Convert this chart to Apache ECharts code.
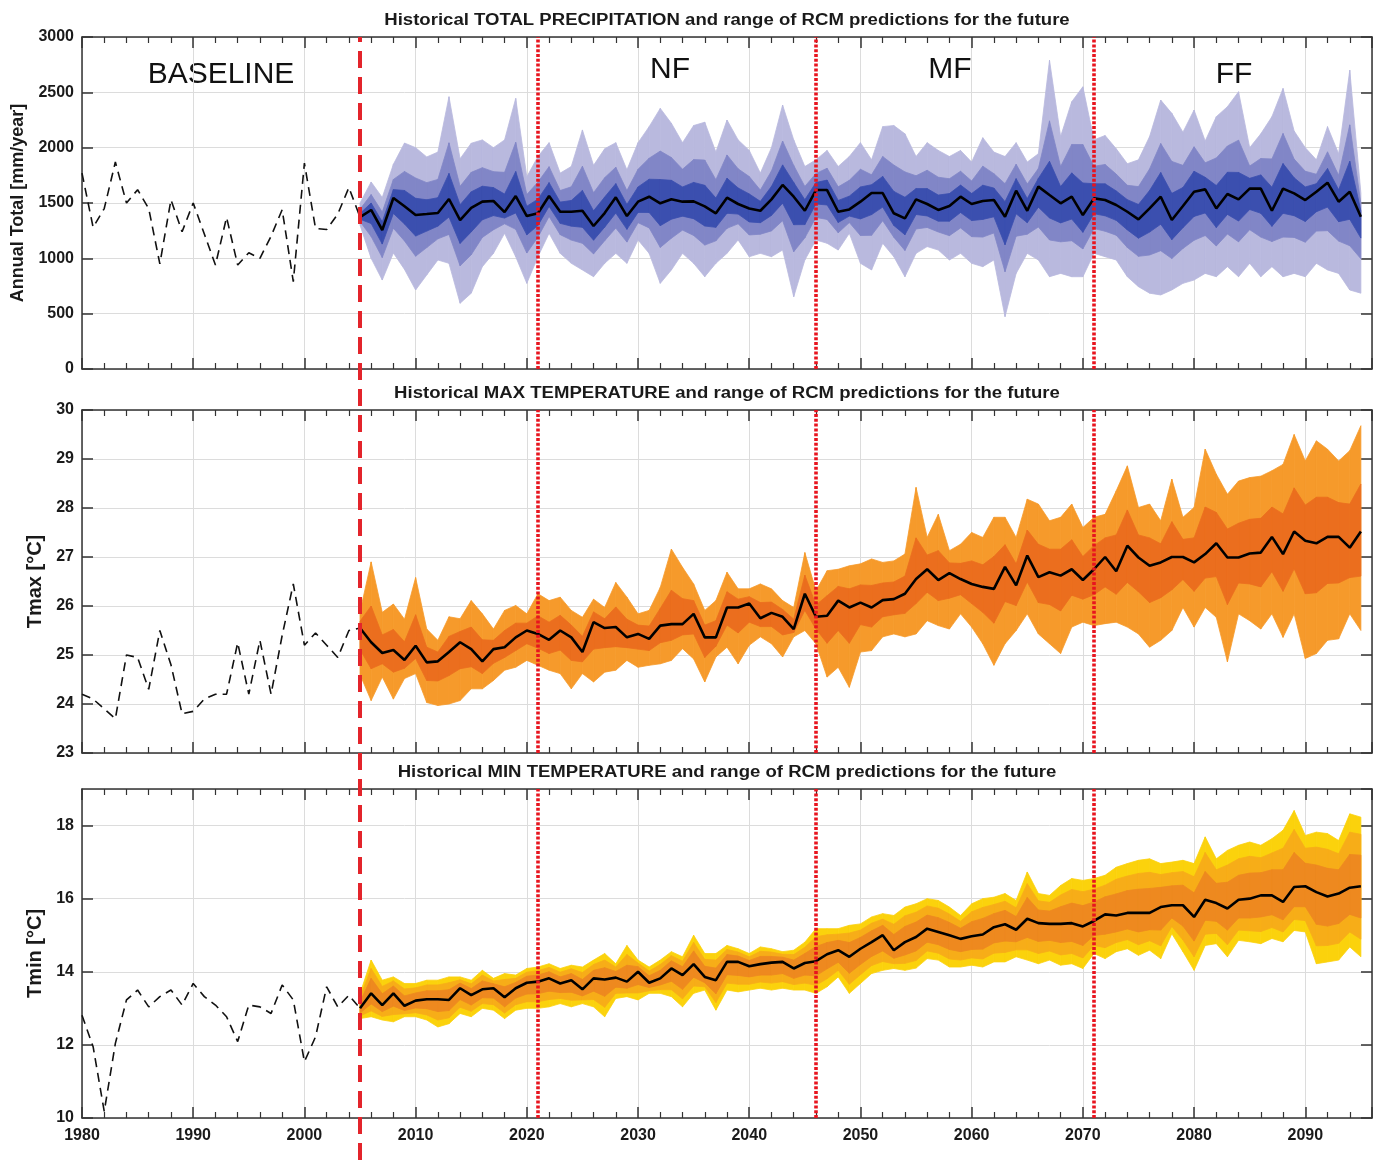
<!DOCTYPE html>
<html>
<head>
<meta charset="utf-8">
<title>Historical climate and RCM predictions</title>
<script src="https://cdn.jsdelivr.net/npm/echarts@6/dist/echarts.min.js"></script>
<style>
  html, body { margin: 0; background: #fff; }
  #chart { width: 1378px; height: 1162px; }
</style>
</head>
<body>
<div id="chart"></div>
<script>
// years on the x axis
const histYears = [];
for (let y = 1980; y <= 2005; y++) histYears.push(y);
const futureYears = [];
for (let y = 2005; y <= 2095; y++) futureYears.push(y);
const baselineEnd = 2005;
const periodBreaks = [2021, 2046, 2071];
const periodLabels = ['BASELINE', 'NF', 'MF', 'FF'];

// ---- total precipitation (mm/year)
const histPrecip = [1770, 1280, 1450, 1870, 1500, 1620, 1450, 950, 1530, 1240, 1500, 1220, 940, 1370, 940, 1050, 1000, 1200, 1440, 790, 1860, 1270, 1260, 1400, 1640, 1373];
const precipMedian = [
  1373, 1437, 1256, 1545, 1470, 1391, 1400, 1410, 1536, 1346,
  1455, 1512, 1518, 1418, 1563, 1382, 1407, 1563, 1421, 1421,
  1430, 1292, 1409, 1551, 1382, 1512, 1557, 1497, 1533, 1512,
  1515, 1470, 1407, 1548, 1491, 1451, 1430, 1533, 1663, 1557,
  1430, 1617, 1617, 1421, 1442, 1512, 1590, 1590, 1407, 1361,
  1533, 1491, 1437, 1473, 1557, 1491, 1518, 1527, 1376, 1611,
  1430, 1648, 1572, 1497, 1557, 1391, 1542, 1527, 1482, 1421,
  1352, 1451, 1557, 1346, 1473, 1602, 1623, 1451, 1581, 1533,
  1630, 1630, 1430, 1630, 1587, 1527, 1602, 1684, 1512, 1602,
  1376];
const precipOuterHi = [
  1500, 1690, 1550, 1850, 2042, 2000, 1916, 1960, 2460, 1900,
  2040, 2070, 2000, 2070, 2445, 1737, 1920, 2045, 1770, 1830,
  2160, 1840, 1990, 2045, 1800, 2045, 2190, 2355, 2220, 2045,
  2200, 2230, 1960, 2250, 2070, 1975, 1770, 2000, 2385, 2070,
  1830, 1890, 1975, 1830, 1920, 2045, 1890, 2190, 2200, 2125,
  1920, 2045, 1975, 1920, 1975, 1870, 2090, 1960, 1920, 2045,
  1870, 1945, 2790, 2100, 2415, 2550, 2070, 2110, 1990, 1855,
  1890, 2100, 2430, 2310, 2140, 2340, 2060, 2280, 2370, 2505,
  2000, 2125, 2280, 2535, 2150, 2000, 1890, 2190, 1945, 2700,
  1590];
const precipOuterLo = [
  1300, 1000, 804, 1048, 900, 714, 850, 985, 955, 594,
  685, 925, 1045, 1226, 1015, 774, 1015, 1226, 1045, 955,
  895, 834, 955, 1045, 955, 1166, 1045, 774, 895, 1045,
  955, 834, 955, 1045, 1166, 1015, 1045, 1015, 1075, 653,
  985, 1166, 1136, 1075, 1226, 955, 895, 1136, 1015, 834,
  1045, 1106, 1075, 985, 1045, 955, 925, 985, 473, 864,
  1045, 985, 834, 864, 834, 834, 1045, 1015, 985, 834,
  744, 685, 669, 714, 774, 804, 864, 834, 925, 834,
  955, 834, 925, 834, 864, 834, 955, 895, 864, 714,
  685];
const precipMidHi = [
  1443, 1576, 1418, 1713, 1785, 1726, 1684, 1713, 2044, 1651,
  1777, 1819, 1783, 1777, 2048, 1577, 1689, 1828, 1613, 1646,
  1832, 1593, 1729, 1823, 1612, 1805, 1905, 1969, 1911, 1805,
  1892, 1888, 1711, 1934, 1809, 1739, 1617, 1790, 2060, 1839,
  1650, 1767, 1814, 1646, 1705, 1805, 1755, 1920, 1843, 1781,
  1746, 1796, 1733, 1719, 1787, 1699, 1833, 1765, 1675, 1850,
  1672, 1811, 2242, 1829, 2029, 2028, 1832, 1848, 1761, 1660,
  1648, 1808, 2037, 1876, 1840, 2008, 1863, 1907, 2015, 2068,
  1834, 1902, 1898, 2128, 1897, 1787, 1760, 1962, 1750, 2206,
  1494];
const precipMidLo = [
  1333, 1197, 1007, 1272, 1157, 1019, 1097, 1176, 1216, 932,
  1032, 1189, 1258, 1312, 1262, 1048, 1191, 1378, 1214, 1165,
  1136, 1040, 1159, 1273, 1147, 1322, 1275, 1099, 1182, 1255,
  1207, 1120, 1158, 1271, 1312, 1211, 1218, 1248, 1340, 1060,
  1185, 1369, 1352, 1231, 1323, 1206, 1208, 1340, 1191, 1071,
  1265, 1279, 1238, 1205, 1275, 1196, 1192, 1229, 879, 1200,
  1218, 1283, 1166, 1149, 1159, 1085, 1269, 1245, 1209, 1098,
  1018, 1030, 1069, 998, 1089, 1163, 1206, 1112, 1220, 1149,
  1259, 1192, 1152, 1192, 1189, 1146, 1246, 1250, 1156, 1114,
  996];
const precipInnerHi = [
  1405, 1500, 1330, 1621, 1613, 1543, 1529, 1548, 1767, 1485,
  1601, 1652, 1639, 1581, 1784, 1471, 1535, 1684, 1508, 1523,
  1613, 1429, 1554, 1675, 1487, 1645, 1715, 1712, 1705, 1645,
  1686, 1660, 1545, 1724, 1636, 1582, 1515, 1650, 1844, 1685,
  1530, 1685, 1707, 1523, 1562, 1645, 1665, 1740, 1605, 1552,
  1630, 1630, 1572, 1585, 1662, 1586, 1661, 1635, 1512, 1720,
  1540, 1722, 1877, 1648, 1772, 1681, 1674, 1673, 1609, 1530,
  1487, 1613, 1775, 1587, 1640, 1787, 1732, 1658, 1778, 1776,
  1723, 1754, 1643, 1856, 1728, 1645, 1674, 1811, 1620, 1877,
  1430];
const precipInnerLo = [
  1353, 1315, 1129, 1406, 1310, 1201, 1246, 1291, 1373, 1135,
  1239, 1348, 1386, 1364, 1410, 1212, 1297, 1469, 1316, 1291,
  1280, 1164, 1282, 1409, 1262, 1415, 1414, 1295, 1354, 1381,
  1358, 1292, 1280, 1407, 1400, 1329, 1322, 1388, 1498, 1304,
  1305, 1491, 1482, 1324, 1382, 1356, 1395, 1463, 1297, 1213,
  1396, 1383, 1336, 1336, 1414, 1341, 1352, 1375, 1123, 1402,
  1322, 1462, 1365, 1320, 1355, 1235, 1403, 1384, 1343, 1257,
  1182, 1237, 1308, 1169, 1277, 1379, 1410, 1278, 1397, 1337,
  1441, 1407, 1289, 1407, 1385, 1333, 1421, 1463, 1331, 1353,
  1183];

// ---- max temperature (°C)
const histTmax = [24.2, 24.1, 23.9, 23.7, 25.0, 24.95, 24.3, 25.5, 24.8, 23.8, 23.85, 24.1, 24.2, 24.2, 25.25, 24.2, 25.3, 24.2, 25.4, 26.45, 25.2, 25.45, 25.2, 24.95, 25.5, 25.55];
const tmaxMedian = [
  25.55, 25.26, 25.04, 25.10, 24.90, 25.19, 24.85, 24.87, 25.06, 25.26,
  25.12, 24.87, 25.12, 25.16, 25.36, 25.50, 25.43, 25.31, 25.50, 25.36,
  25.06, 25.67, 25.55, 25.57, 25.36, 25.43, 25.33, 25.60, 25.63, 25.63,
  25.84, 25.36, 25.36, 25.97, 25.97, 26.05, 25.75, 25.86, 25.78, 25.53,
  26.25, 25.78, 25.80, 26.11, 25.97, 26.07, 25.97, 26.12, 26.14, 26.25,
  26.55, 26.75, 26.53, 26.67, 26.55, 26.45, 26.39, 26.35, 26.80, 26.42,
  27.03, 26.59, 26.69, 26.62, 26.75, 26.53, 26.75, 27.00, 26.71, 27.23,
  26.99, 26.82, 26.89, 27.00, 27.00, 26.89, 27.06, 27.28, 26.99, 26.99,
  27.07, 27.09, 27.41, 27.06, 27.52, 27.33, 27.28, 27.41, 27.41, 27.19,
  27.52];
const tmaxOuterHi = [
  25.88, 26.90, 25.87, 26.04, 25.73, 26.58, 25.53, 25.30, 25.78, 25.74,
  26.11, 25.84, 25.53, 25.91, 26.01, 25.84, 26.25, 26.11, 26.18, 25.91,
  25.77, 26.14, 25.97, 26.48, 26.18, 25.84, 25.91, 26.38, 27.16, 26.79,
  26.45, 25.91, 26.11, 26.69, 26.35, 26.35, 26.45, 26.35, 26.11, 25.97,
  27.09, 26.31, 26.72, 26.75, 26.82, 26.86, 26.96, 26.89, 26.92, 27.06,
  28.42, 27.40, 27.87, 27.13, 27.26, 27.50, 27.40, 27.81, 27.81, 27.40,
  28.18, 28.08, 27.74, 27.81, 28.08, 27.60, 27.81, 27.87, 28.35, 28.86,
  28.01, 28.08, 27.74, 28.59, 27.81, 28.01, 29.20, 28.69, 28.28, 28.55,
  28.62, 28.65, 28.76, 28.89, 29.50, 28.96, 29.37, 29.20, 28.96, 29.17,
  29.68];
const tmaxOuterLo = [
  24.60, 24.07, 24.55, 24.10, 24.52, 24.62, 24.03, 23.97, 24.00, 24.07,
  24.31, 24.31, 24.48, 24.69, 24.75, 24.89, 24.79, 24.69, 24.62, 24.31,
  24.62, 24.45, 24.65, 24.69, 24.89, 24.75, 24.79, 24.82, 24.89, 25.13,
  24.92, 24.45, 24.96, 25.16, 24.82, 25.20, 25.37, 25.23, 24.96, 25.37,
  25.50, 25.23, 24.55, 24.75, 24.34, 25.06, 25.09, 25.37, 25.43, 25.37,
  25.43, 25.70, 25.60, 25.53, 25.84, 25.57, 25.23, 24.79, 25.23, 25.50,
  25.84, 25.43, 25.23, 25.03, 25.57, 25.67, 25.60, 25.64, 25.67, 25.57,
  25.43, 25.16, 25.30, 25.50, 25.97, 25.57, 25.97, 25.77, 24.86, 25.84,
  25.70, 25.53, 25.84, 25.36, 25.84, 24.93, 25.03, 25.30, 25.33, 25.84,
  25.50];
const tmaxInnerHi = [
  25.69, 26.00, 25.41, 25.52, 25.27, 25.82, 25.16, 25.06, 25.38, 25.48,
  25.57, 25.31, 25.30, 25.50, 25.65, 25.65, 25.80, 25.67, 25.81, 25.61,
  25.38, 25.88, 25.74, 25.98, 25.73, 25.61, 25.59, 25.95, 26.32, 26.15,
  26.11, 25.61, 25.70, 26.29, 26.14, 26.19, 26.07, 26.08, 25.93, 25.73,
  26.63, 26.02, 26.21, 26.40, 26.35, 26.43, 26.42, 26.47, 26.49, 26.61,
  27.39, 27.04, 27.13, 26.88, 26.87, 26.92, 26.84, 27.01, 27.25, 26.86,
  27.55, 27.26, 27.16, 27.16, 27.35, 27.01, 27.23, 27.39, 27.45, 27.96,
  27.45, 27.39, 27.27, 27.72, 27.36, 27.39, 28.02, 27.91, 27.57, 27.69,
  27.77, 27.79, 28.02, 27.88, 28.41, 28.06, 28.22, 28.22, 28.11, 28.08,
  28.49];
const tmaxInnerLo = [
  25.11, 24.72, 24.82, 24.65, 24.73, 24.93, 24.48, 24.47, 24.58, 24.72,
  24.76, 24.62, 24.83, 24.95, 25.09, 25.23, 25.14, 25.03, 25.10, 24.89,
  24.86, 25.12, 25.15, 25.17, 25.15, 25.12, 25.09, 25.25, 25.30, 25.41,
  25.43, 24.95, 25.18, 25.61, 25.45, 25.67, 25.58, 25.58, 25.41, 25.46,
  25.91, 25.53, 25.24, 25.50, 25.24, 25.62, 25.57, 25.78, 25.82, 25.85,
  26.05, 26.28, 26.11, 26.16, 26.23, 26.05, 25.87, 25.65, 26.09, 26.01,
  26.49, 26.07, 26.03, 25.90, 26.22, 26.14, 26.23, 26.39, 26.24, 26.48,
  26.29, 26.07, 26.17, 26.33, 26.54, 26.30, 26.57, 26.60, 26.03, 26.47,
  26.45, 26.39, 26.70, 26.30, 26.76, 26.25, 26.27, 26.46, 26.47, 26.58,
  26.61];

// ---- min temperature (°C)
const histTmin = [12.81, 11.95, 10.18, 12.04, 13.23, 13.50, 13.04, 13.32, 13.50, 13.09, 13.68, 13.32, 13.09, 12.77, 12.09, 13.09, 13.04, 12.86, 13.64, 13.23, 11.54, 12.22, 13.59, 13.04, 13.36, 13.00];
const tminMedian = [
  13.00, 13.41, 13.09, 13.41, 13.07, 13.21, 13.25, 13.25, 13.23, 13.55,
  13.36, 13.52, 13.55, 13.30, 13.55, 13.70, 13.73, 13.82, 13.68, 13.77,
  13.52, 13.82, 13.79, 13.84, 13.73, 14.00, 13.70, 13.82, 14.09, 13.91,
  14.21, 13.86, 13.77, 14.27, 14.27, 14.15, 14.21, 14.25, 14.27, 14.09,
  14.24, 14.29, 14.48, 14.59, 14.41, 14.63, 14.81, 15.00, 14.59, 14.81,
  14.95, 15.18, 15.09, 15.00, 14.90, 14.97, 15.02, 15.22, 15.30, 15.15,
  15.45, 15.33, 15.31, 15.31, 15.33, 15.24, 15.39, 15.57, 15.54, 15.61,
  15.61, 15.61, 15.77, 15.82, 15.82, 15.50, 15.97, 15.88, 15.73, 15.97,
  16.00, 16.09, 16.09, 15.91, 16.32, 16.34, 16.18, 16.06, 16.14, 16.30,
  16.34];
const tminOuterHi = [
  13.40, 14.32, 13.77, 13.86, 13.68, 13.68, 13.77, 13.77, 13.86, 13.86,
  13.77, 14.04, 13.82, 13.95, 13.91, 14.09, 14.13, 14.22, 14.09, 14.18,
  14.13, 14.32, 14.50, 14.22, 14.72, 14.32, 14.13, 14.32, 14.55, 14.41,
  15.00, 14.50, 14.50, 14.72, 14.63, 14.50, 14.68, 14.63, 14.55, 14.59,
  14.81, 15.18, 15.18, 15.18, 15.27, 15.31, 15.50, 15.59, 15.54, 15.77,
  15.86, 16.00, 15.95, 15.77, 15.54, 15.86, 16.00, 16.04, 16.14, 15.95,
  16.73, 16.14, 16.09, 16.36, 16.55, 16.50, 16.55, 16.64, 16.86, 16.96,
  17.05, 17.09, 16.96, 17.00, 17.05, 16.96, 17.69, 17.09, 17.32, 17.46,
  17.55, 17.46, 17.64, 17.87, 18.41, 17.73, 17.82, 17.78, 17.59, 18.32,
  18.23];
const tminOuterLo = [
  12.72, 12.77, 12.68, 12.63, 12.77, 12.77, 12.68, 12.49, 12.58, 12.86,
  12.77, 13.00, 12.95, 12.72, 12.95, 13.00, 13.00, 13.04, 13.13, 13.04,
  13.13, 13.04, 12.77, 13.27, 13.32, 13.23, 13.41, 13.41, 13.32, 13.04,
  13.41, 13.50, 12.95, 13.50, 13.45, 13.50, 13.55, 13.50, 13.55, 13.50,
  13.50, 13.41, 13.59, 13.86, 13.41, 13.68, 13.95, 14.04, 14.09, 14.04,
  14.10, 14.36, 14.32, 14.13, 14.13, 14.18, 14.13, 14.27, 14.27, 14.41,
  14.32, 14.22, 14.32, 14.18, 14.22, 14.09, 14.50, 14.36, 14.55, 14.63,
  14.45, 14.59, 14.36, 15.04, 14.55, 14.04, 14.72, 14.77, 14.41, 14.86,
  14.82, 14.77, 14.91, 14.82, 15.13, 15.09, 14.22, 14.27, 14.32, 14.68,
  14.41];
const tminMidHi = [
  13.30, 14.09, 13.60, 13.75, 13.53, 13.56, 13.64, 13.64, 13.70, 13.78,
  13.67, 13.91, 13.75, 13.79, 13.82, 13.99, 14.03, 14.12, 13.99, 14.08,
  13.98, 14.20, 14.32, 14.13, 14.47, 14.24, 14.02, 14.20, 14.44, 14.29,
  14.80, 14.34, 14.32, 14.61, 14.54, 14.41, 14.56, 14.54, 14.48, 14.47,
  14.67, 14.96, 15.01, 15.03, 15.06, 15.14, 15.33, 15.44, 15.30, 15.53,
  15.63, 15.80, 15.74, 15.58, 15.38, 15.64, 15.76, 15.84, 15.93, 15.75,
  16.41, 15.94, 15.90, 16.10, 16.25, 16.19, 16.26, 16.37, 16.53, 16.62,
  16.69, 16.72, 16.66, 16.71, 16.74, 16.60, 17.26, 16.79, 16.92, 17.09,
  17.16, 17.12, 17.25, 17.38, 17.89, 17.38, 17.41, 17.35, 17.23, 17.82,
  17.76];
const tminMidLo = [
  12.79, 12.93, 12.78, 12.83, 12.85, 12.88, 12.82, 12.68, 12.74, 13.03,
  12.92, 13.13, 13.10, 12.87, 13.10, 13.18, 13.18, 13.24, 13.27, 13.22,
  13.23, 13.24, 13.03, 13.41, 13.42, 13.42, 13.48, 13.51, 13.51, 13.26,
  13.61, 13.59, 13.16, 13.69, 13.66, 13.66, 13.72, 13.69, 13.73, 13.65,
  13.69, 13.63, 13.81, 14.04, 13.66, 13.92, 14.17, 14.28, 14.22, 14.23,
  14.31, 14.57, 14.51, 14.35, 14.32, 14.38, 14.35, 14.51, 14.53, 14.60,
  14.60, 14.50, 14.57, 14.46, 14.50, 14.38, 14.72, 14.66, 14.80, 14.88,
  14.74, 14.85, 14.71, 15.24, 14.87, 14.41, 15.03, 15.05, 14.74, 15.14,
  15.12, 15.10, 15.21, 15.09, 15.43, 15.40, 14.71, 14.72, 14.78, 15.09,
  14.89];
const tminInnerHi = [
  13.18, 13.82, 13.40, 13.61, 13.34, 13.42, 13.48, 13.48, 13.51, 13.69,
  13.54, 13.75, 13.67, 13.59, 13.71, 13.88, 13.91, 14.00, 13.86, 13.95,
  13.79, 14.04, 14.11, 14.01, 14.18, 14.14, 13.89, 14.04, 14.30, 14.14,
  14.57, 14.15, 14.10, 14.47, 14.43, 14.31, 14.42, 14.42, 14.40, 14.32,
  14.50, 14.69, 14.80, 14.86, 14.80, 14.94, 15.12, 15.27, 15.02, 15.24,
  15.36, 15.55, 15.48, 15.35, 15.19, 15.37, 15.46, 15.59, 15.68, 15.51,
  16.03, 15.69, 15.66, 15.78, 15.88, 15.81, 15.91, 16.05, 16.13, 16.22,
  16.26, 16.28, 16.31, 16.35, 16.37, 16.16, 16.74, 16.42, 16.45, 16.64,
  16.70, 16.71, 16.79, 16.79, 17.26, 16.97, 16.92, 16.83, 16.79, 17.21,
  17.19];
const tminInnerLo = [
  12.87, 13.12, 12.91, 13.06, 12.94, 13.01, 12.99, 12.91, 12.94, 13.24,
  13.09, 13.29, 13.28, 13.04, 13.28, 13.39, 13.40, 13.47, 13.43, 13.44,
  13.34, 13.47, 13.33, 13.58, 13.55, 13.65, 13.57, 13.64, 13.74, 13.52,
  13.85, 13.70, 13.40, 13.92, 13.90, 13.86, 13.91, 13.91, 13.95, 13.82,
  13.91, 13.89, 14.08, 14.26, 13.96, 14.20, 14.42, 14.57, 14.37, 14.46,
  14.57, 14.81, 14.74, 14.61, 14.55, 14.61, 14.62, 14.79, 14.84, 14.82,
  14.94, 14.83, 14.86, 14.80, 14.83, 14.72, 14.99, 15.03, 15.09, 15.17,
  15.09, 15.15, 15.14, 15.47, 15.25, 14.84, 15.41, 15.38, 15.14, 15.47,
  15.47, 15.50, 15.56, 15.42, 15.78, 15.78, 15.30, 15.25, 15.32, 15.57,
  15.47];

const FONT = '"Liberation Sans", Arial, Helvetica, sans-serif';
const TEXT = '#1a1a1a';

const panels = [
  {
    title: 'Historical TOTAL PRECIPITATION and range of RCM predictions for the future',
    top: 37, height: 332, min: 0, max: 3000, interval: 500,
    yName: 'Annual Total [mm/year]', nameGap: 53, nameSize: 18,
    hist: histPrecip, median: precipMedian,
    bands: [
      [precipOuterLo, precipOuterHi, '#b9b9de'],
      [precipMidLo, precipMidHi, '#8186c7'],
      [precipInnerLo, precipInnerHi, '#3b4faf']
    ]
  },
  {
    title: 'Historical MAX TEMPERATURE and range of RCM predictions for the future',
    top: 410, height: 343, min: 23, max: 30, interval: 1,
    yName: 'Tmax [°C]', nameGap: 34, nameSize: 20,
    hist: histTmax, median: tmaxMedian,
    bands: [
      [tmaxOuterLo, tmaxOuterHi, '#f69a2b'],
      [tmaxInnerLo, tmaxInnerHi, '#eb6e1e']
    ]
  },
  {
    title: 'Historical MIN TEMPERATURE and range of RCM predictions for the future',
    top: 789, height: 329, min: 10, max: 19, interval: 2,
    yName: 'Tmin [°C]', nameGap: 33, nameSize: 20,
    hist: histTmin, median: tminMedian,
    bands: [
      [tminOuterLo, tminOuterHi, '#fbd20c'],
      [tminMidLo, tminMidHi, '#f7ad18'],
      [tminInnerLo, tminInnerHi, '#ee891f']
    ]
  }
];

function pairs(xs, ys) {
  return xs.map((x, i) => [x, ys[i]]);
}

// one row per year-to-year segment: [x0, lo0, hi0, x1, lo1, hi1]
function bandRows(lo, hi) {
  const rows = [];
  for (let i = 0; i < futureYears.length - 1; i++) {
    rows.push([futureYears[i], lo[i], hi[i], futureYears[i + 1], lo[i + 1], hi[i + 1]]);
  }
  return rows;
}

function renderBand(params, api) {
  const a = api.coord([api.value(0), api.value(2)]);
  const b = api.coord([api.value(3), api.value(5)]);
  const c = api.coord([api.value(3), api.value(4)]);
  const d = api.coord([api.value(0), api.value(1)]);
  const color = api.visual('color');
  return {
    type: 'polygon',
    shape: { points: [a, b, c, d] },
    style: { fill: color, stroke: color, lineWidth: 0.8 }
  };
}

const grid = [];
const xAxis = [];
const yAxis = [];
const series = [];
const plainNumber = v => String(v);

panels.forEach((p, g) => {
  grid.push({ left: 82, right: 6, top: p.top, height: p.height });

  const xCommon = {
    type: 'value', gridIndex: g, min: 1980, max: 2096, interval: 10,
    axisLine: { show: true, onZero: false, lineStyle: { color: '#333', width: 1.5 } },
    axisTick: { show: true, inside: true, length: 11, lineStyle: { color: '#333', width: 1.5 } },
    minorTick: { show: true, splitNumber: 5, length: 6, lineStyle: { color: '#333', width: 1.2 } }
  };
  xAxis.push(Object.assign({}, xCommon, {
    position: 'bottom',
    splitLine: { show: true, lineStyle: { color: '#dcdcdc', width: 1 } },
    axisLabel: {
      show: g === 2, showMaxLabel: false, margin: 10, formatter: plainNumber,
      color: TEXT, fontFamily: FONT, fontWeight: 'bold', fontSize: 16
    }
  }));
  xAxis.push(Object.assign({}, xCommon, {
    position: 'top', splitLine: { show: false }, axisLabel: { show: false }
  }));

  const yCommon = {
    type: 'value', gridIndex: g, min: p.min, max: p.max, interval: p.interval,
    axisLine: { show: true, onZero: false, lineStyle: { color: '#333', width: 1.5 } },
    axisTick: { show: true, inside: true, length: 11, lineStyle: { color: '#333', width: 1.5 } }
  };
  yAxis.push(Object.assign({}, yCommon, {
    position: 'left',
    name: p.yName, nameLocation: 'middle', nameGap: p.nameGap, nameRotate: 90,
    nameTextStyle: { color: TEXT, fontFamily: FONT, fontWeight: 'bold', fontSize: p.nameSize },
    splitLine: { show: true, lineStyle: { color: '#dcdcdc', width: 1 } },
    axisLabel: {
      showMaxLabel: p.max % p.interval === 0, margin: 8, formatter: plainNumber,
      color: TEXT, fontFamily: FONT, fontWeight: 'bold', fontSize: 16
    }
  }));
  yAxis.push(Object.assign({}, yCommon, {
    position: 'right', splitLine: { show: false }, axisLabel: { show: false }
  }));

  const axisRef = { xAxisIndex: g * 2, yAxisIndex: g * 2 };

  // RCM ranges, outer band first so the narrower ones sit on top
  p.bands.forEach(([lo, hi, color]) => {
    series.push(Object.assign({
      type: 'custom', data: bandRows(lo, hi), renderItem: renderBand,
      encode: { x: [0, 3], y: [1, 2, 4, 5] },
      itemStyle: { color: color }, silent: true, clip: true
    }, axisRef));
  });

  series.push(Object.assign({
    type: 'line', data: pairs(histYears, p.hist), symbol: 'none', silent: true,
    lineStyle: { color: '#111', width: 1.6, type: [9, 6] }
  }, axisRef));

  series.push(Object.assign({
    type: 'line', data: pairs(futureYears, p.median), symbol: 'none', silent: true, z: 4,
    lineStyle: { color: '#000', width: 2.6 },
    markLine: {
      silent: true, symbol: 'none', label: { show: false },
      lineStyle: { color: '#e8141e', width: 3.6, type: [3, 1.8] },
      data: periodBreaks.map(v => ({ xAxis: v }))
    }
  }, axisRef));
});

// full-height overlay so the 2005 break runs through all three panels
grid.push({ left: 82, right: 6, top: 37, bottom: 2 });
xAxis.push({ type: 'value', gridIndex: 3, min: 1980, max: 2096, show: false });
yAxis.push({ type: 'value', gridIndex: 3, min: 0, max: 1, show: false });
series.push({
  type: 'line', xAxisIndex: 6, yAxisIndex: 6, data: [], z: 10, silent: true,
  markLine: {
    silent: true, symbol: 'none', label: { show: false },
    lineStyle: { color: '#e3242b', width: 4, type: [17, 9] },
    data: [{ xAxis: baselineEnd }]
  }
});

// titles are drawn a little wide, like the stretched original figure
const graphic = [];
panels.forEach(p => {
  graphic.push({
    type: 'text', x: 727, y: p.top - 16, scaleX: 1.16,
    style: { text: p.title, font: 'bold 16px ' + FONT, fill: TEXT, align: 'center', verticalAlign: 'middle' }
  });
});
const labelX = [221, 670, 950, 1234];
const labelY = [75, 70, 70, 75];
periodLabels.forEach((t, i) => {
  graphic.push({
    type: 'text', x: labelX[i], y: labelY[i],
    style: { text: t, font: '30px ' + FONT, fill: '#111', align: 'center', verticalAlign: 'middle' }
  });
});

const chart = echarts.init(document.getElementById('chart'));
chart.setOption({
  backgroundColor: '#fff',
  animation: false,
  grid: grid,
  xAxis: xAxis,
  yAxis: yAxis,
  series: series,
  graphic: graphic
});
window.addEventListener('resize', () => chart.resize());
</script>
</body>
</html>
